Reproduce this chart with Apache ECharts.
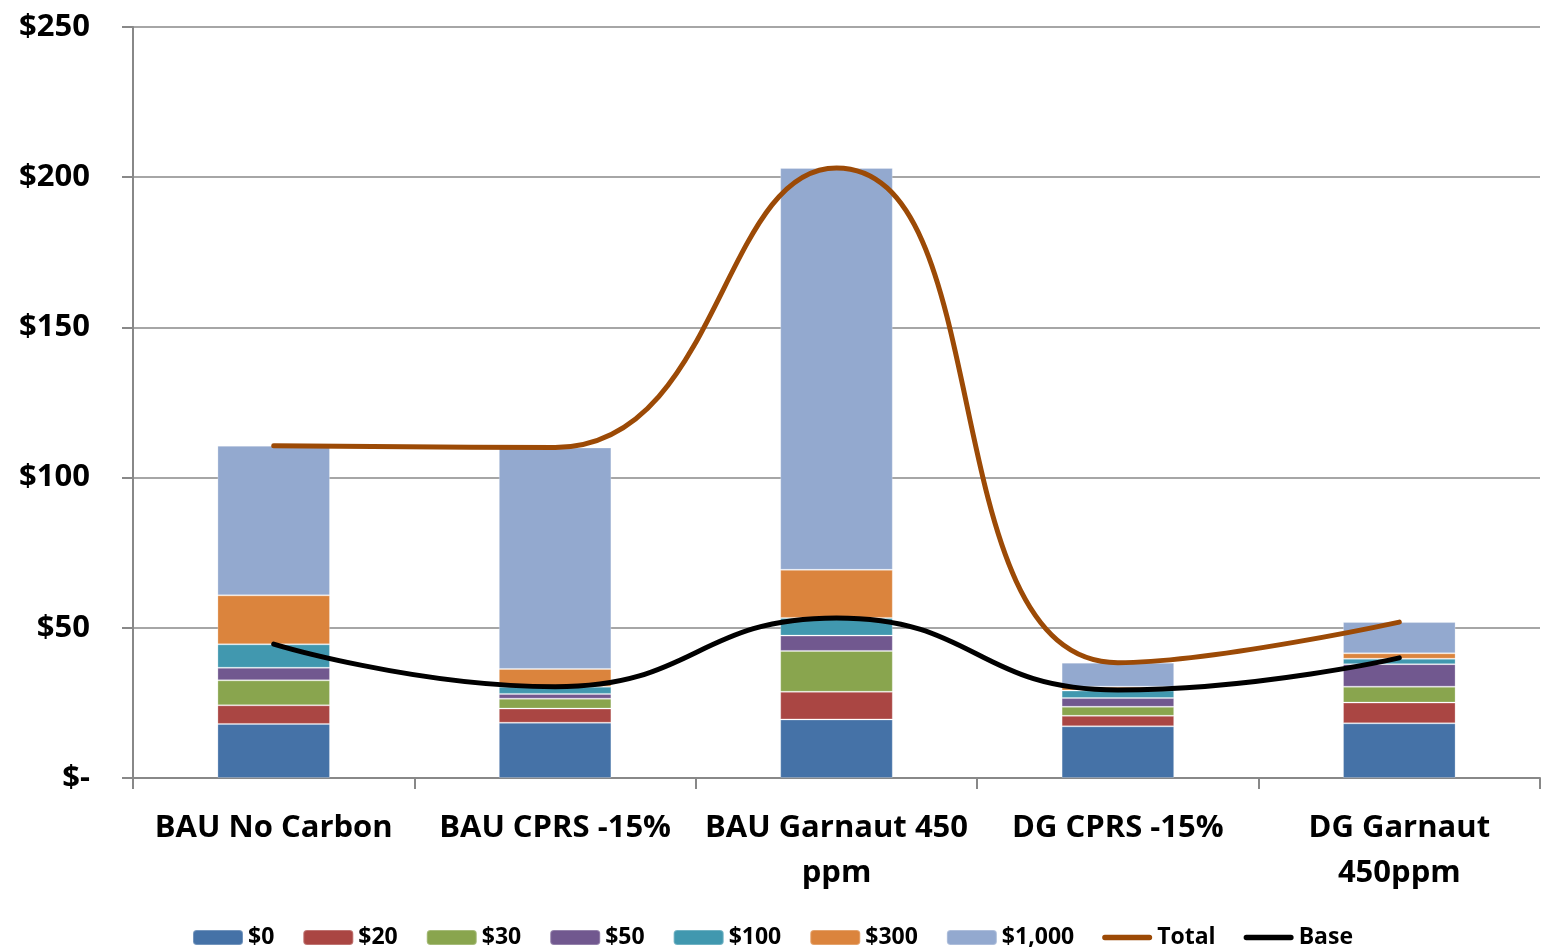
<!DOCTYPE html>
<html>
<head>
<meta charset="utf-8">
<script src="https://cdn.jsdelivr.net/npm/echarts@6/dist/echarts.min.js"></script>
<style>
  html, body { margin: 0; padding: 0; background: #fff; }
  #chart { width: 1545px; height: 948px; }
</style>
</head>
<body>
<div id="chart"></div>
<script>
// categories
const categories = ['BAU No Carbon', 'BAU CPRS -15%', 'BAU Garnaut 450\nppm', 'DG CPRS -15%', 'DG Garnaut\n450ppm']

// stacked segments
const s0    = [18.0, 18.4, 19.5, 17.2, 18.2]
const s20   = [6.2, 4.7, 9.2, 3.5, 6.9]
const s30   = [8.3, 3.3, 13.6, 3.0, 5.3]
const s50   = [4.2, 1.6, 5.1, 2.9, 7.5]
const s100  = [7.8, 2.4, 5.9, 2.5, 1.8]
const s300  = [16.3, 5.9, 16.0, 1.3, 1.8]
const s1000 = [49.8, 73.7, 133.8, 8.0, 10.4]

// lines
const total = [110.6, 110.0, 203.1, 38.4, 51.9]
const base  = [44.6, 30.4, 53.3, 29.3, 40.0]

const yTicks = { 0: '$-', 50: '$50', 100: '$100', 150: '$150', 200: '$200', 250: '$250' }

const FONT = 'Open Sans'
const LINE_ICON = 'path://M3,0 L53,0 A3,3 0 0 1 53,6 L3,6 A3,3 0 0 1 3,0 Z'

const barSeries = [
  ['$0', s0, '#4572A7'],
  ['$20', s20, '#AA4643'],
  ['$30', s30, '#89A54E'],
  ['$50', s50, '#71588F'],
  ['$100', s100, '#4198AF'],
  ['$300', s300, '#DB843D'],
  ['$1,000', s1000, '#93A9CF']
].map(([name, data, color]) => ({
  name,
  type: 'bar',
  stack: 'cost',
  barWidth: '40%',
  data,
  itemStyle: { color, borderColor: 'rgba(255,255,255,0.25)', borderWidth: 1 },
  emphasis: { disabled: true }
}))

const chart = echarts.init(document.getElementById('chart'))

const option = {
  animation: false,
  backgroundColor: '#fff',
  textStyle: { fontFamily: FONT },
  grid: { left: 133, right: 5, top: 27, bottom: 170 },
  legend: {
    top: 921,
    left: 'center',
    itemWidth: 50,
    itemHeight: 15,
    itemGap: 28,
    symbolKeepAspect: true,
    textStyle: { fontFamily: FONT, fontWeight: 'bold', fontSize: 23, color: '#000' },
    data: ['$0', '$20', '$30', '$50', '$100', '$300', '$1,000',
      { name: 'Total', icon: LINE_ICON },
      { name: 'Base', icon: LINE_ICON }]
  },
  xAxis: {
    type: 'category',
    data: categories,
    axisLine: { lineStyle: { color: '#888', width: 2 } },
    axisTick: { show: true, length: 11, lineStyle: { color: '#888', width: 2 } },
    axisLabel: {
      margin: 28,
      fontFamily: FONT,
      fontWeight: 'bold',
      fontSize: 31,
      color: '#000',
      lineHeight: 45,
      interval: 0
    }
  },
  yAxis: {
    type: 'value',
    min: 0,
    max: 250,
    interval: 50,
    axisLine: { show: true, lineStyle: { color: '#888', width: 2 } },
    axisTick: { show: true, length: 11, lineStyle: { color: '#888', width: 2 } },
    splitLine: { lineStyle: { color: '#888', width: 1.5 } },
    axisLabel: {
      margin: 43,
      fontFamily: FONT,
      fontWeight: 'bold',
      fontSize: 31,
      color: '#000',
      formatter: v => yTicks[v]
    }
  },
  series: [
    ...barSeries,
    {
      name: 'Total',
      type: 'line',
      data: total,
      smooth: 0.5,
      symbol: 'none',
      lineStyle: { color: '#9C4A06', width: 5, cap: 'round' },
      itemStyle: { color: '#9C4A06' },
      z: 5
    },
    {
      name: 'Base',
      type: 'line',
      data: base,
      smooth: 0.5,
      symbol: 'none',
      lineStyle: { color: '#000', width: 5, cap: 'round' },
      itemStyle: { color: '#000' },
      z: 6
    }
  ]
}

chart.setOption(option)
</script>
</body>
</html>
